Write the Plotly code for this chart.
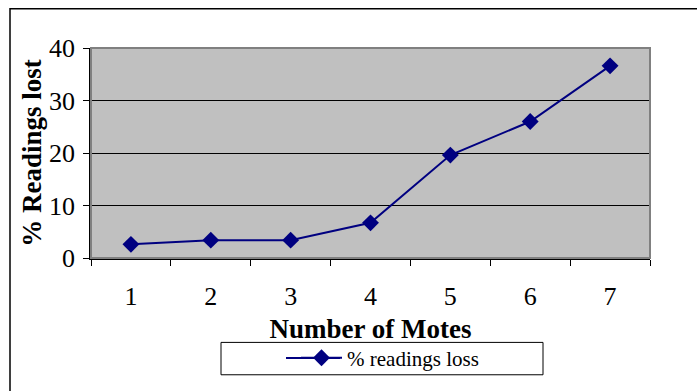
import plotly.graph_objects as go

# Packet loss measured as more motes join the network
motes = ["1", "2", "3", "4", "5", "6", "7"]
pct_lost = [2.6, 3.4, 3.4, 6.7, 19.6, 26.0, 36.6]
y_ticks = [0, 10, 20, 30, 40]

W, H = 697, 391
L, R, T, B = 91, 650, 48, 262  # plot area edges in px


def px_x(x):
    return (x - L) / (R - L)


def px_y(y):
    return (B - y) / (B - T)


FONT = "Liberation Serif, Times New Roman, serif"
NAVY = "#000080"

fig = go.Figure()
fig.add_trace(go.Scatter(
    x=motes, y=pct_lost, mode="lines+markers",
    name="% readings loss",
    line=dict(color=NAVY, width=2),
    marker=dict(symbol="diamond", size=13, color=NAVY),
))

fig.update_layout(
    width=W, height=H,
    margin=dict(l=L, r=W - R, t=T, b=H - B),
    paper_bgcolor="white",
    plot_bgcolor="#C0C0C0",
    font=dict(family=FONT, size=26, color="black"),
    showlegend=True,
    legend=dict(
        x=px_x(296), xanchor="left", y=px_y(364), yanchor="middle",
        bgcolor="rgba(0,0,0,0)", borderwidth=0, itemwidth=41,
        font=dict(family=FONT, size=21, color="black"),
    ),
    shapes=[
        # outer chart frame
        dict(type="rect", xref="paper", yref="paper",
             x0=px_x(10), x1=px_x(720), y0=px_y(420), y1=px_y(8),
             line=dict(color="black", width=1.5), fillcolor="rgba(0,0,0,0)", layer="below"),
        # plot area frame (top / right)
        dict(type="rect", xref="paper", yref="paper",
             x0=0, x1=1, y0=0, y1=1,
             line=dict(color="#808080", width=2), fillcolor="rgba(0,0,0,0)"),
        # legend box
        dict(type="rect", xref="paper", yref="paper",
             x0=px_x(221), x1=px_x(543), y0=px_y(381), y1=px_y(348),
             line=dict(color="black", width=1), fillcolor="white"),
        # longer legend key line
        dict(type="line", xref="paper", yref="paper",
             x0=px_x(286), x1=px_x(340), y0=px_y(364), y1=px_y(364),
             line=dict(color=NAVY, width=2)),
    ],
)

fig.update_xaxes(
    type="category", range=[-0.5, 6.5],
    tickson="boundaries", ticks="outside", ticklen=6, tickcolor="black",
    tickfont=dict(family=FONT, size=26),
    showline=True, linecolor="black", linewidth=1.5,
    showgrid=False, ticklabelstandoff=14,
    title=dict(text="<b>Number of Motes</b>", font=dict(family=FONT, size=27), standoff=9),
)
fig.update_yaxes(
    range=[0, 40], tickvals=y_ticks, ticks="outside", ticklen=6, tickcolor="black",
    tickfont=dict(family=FONT, size=26),
    showline=True, linecolor="black", linewidth=1.5,
    showgrid=True, gridcolor="black", gridwidth=1, zeroline=False,
    ticklabelstandoff=3,
    title=dict(text="<b>% Readings lost</b>", font=dict(family=FONT, size=27), standoff=0),
)

fig.write_html("out.html")
